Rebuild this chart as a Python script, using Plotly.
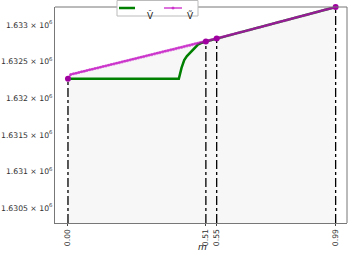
import plotly.graph_objects as go

# ---- data ----
m_grid = [round(i * 0.01, 2) for i in range(100)]
v_tilde = [
    1632266, 1632324, 1632333, 1632342, 1632351, 1632360, 1632369, 1632378, 1632387, 1632396,
    1632405, 1632414, 1632423, 1632432, 1632441, 1632450, 1632459, 1632468, 1632477, 1632486,
    1632495, 1632504, 1632513, 1632522, 1632531, 1632540, 1632550, 1632559, 1632568, 1632577,
    1632586, 1632595, 1632604, 1632613, 1632622, 1632631, 1632640, 1632649, 1632658, 1632667,
    1632676, 1632685, 1632694, 1632703, 1632712, 1632721, 1632730, 1632739, 1632748, 1632757,
    1632766, 1632775, 1632785, 1632795, 1632804, 1632814, 1632824, 1632834, 1632844, 1632854,
    1632863, 1632873, 1632883, 1632893, 1632903, 1632912, 1632922, 1632932, 1632942, 1632952,
    1632961, 1632971, 1632981, 1632991, 1633001, 1633010, 1633020, 1633030, 1633040, 1633050,
    1633059, 1633069, 1633079, 1633089, 1633099, 1633109, 1633118, 1633128, 1633138, 1633148,
    1633158, 1633167, 1633177, 1633187, 1633197, 1633207, 1633216, 1633226, 1633236, 1633246,
]
v_hat_m = [0.00, 0.41, 0.42, 0.43, 0.44, 0.45, 0.46, 0.47, 0.48, 0.49, 0.50, 0.51, 0.55, 0.70, 0.85, 0.99]
v_hat = [1632266, 1632266, 1632413, 1632522, 1632576, 1632617, 1632658, 1632700, 1632730, 1632750,
         1632764, 1632775, 1632814, 1632961, 1633109, 1633246]
mark_m = [0.00, 0.51, 0.55, 0.99]
mark_v = [1632266, 1632775, 1632814, 1633246]
ytick_vals = [1630500, 1631000, 1631500, 1632000, 1632500, 1633000]
ytick_text = ["1.6305 × 10<sup>6</sup>", "1.631 × 10<sup>6</sup>", "1.6315 × 10<sup>6</sup>",
              "1.632 × 10<sup>6</sup>", "1.6325 × 10<sup>6</sup>", "1.633 × 10<sup>6</sup>"]
xtick_text = ["0.00", "0.51", "0.55", "0.99"]
legend_names = ["V̂", "Ṽ"]

Y_MIN, Y_MAX = 1630295, 1633246
GREEN = "#008000"
PINK = "rgba(191,0,191,0.55)"
SPINE = "#777777"

fig = go.Figure()

# gray fill below the curve
fig.add_trace(go.Scatter(x=m_grid, y=[Y_MIN] * len(m_grid), mode="lines",
                         line=dict(width=0), showlegend=False, hoverinfo="skip"))
fig.add_trace(go.Scatter(x=m_grid, y=v_tilde, mode="lines", line=dict(width=0),
                         fill="tonexty", fillcolor="#f7f7f7", showlegend=False, hoverinfo="skip"))

# vertical dash-dot lines
for mm, vv in zip(mark_m, mark_v):
    fig.add_trace(go.Scatter(x=[mm, mm], y=[Y_MIN, vv], mode="lines",
                             line=dict(color="black", width=1.3, dash="dashdot"),
                             showlegend=False, hoverinfo="skip"))

fig.add_trace(go.Scatter(x=v_hat_m, y=v_hat, mode="lines", name=legend_names[0],
                         line=dict(color=GREEN, width=2.5), showlegend=False))
fig.add_trace(go.Scatter(x=m_grid, y=v_tilde, mode="lines+markers", name=legend_names[1],
                         line=dict(color=PINK, width=2),
                         marker=dict(color=PINK, size=3), showlegend=False))
fig.add_trace(go.Scatter(x=mark_m, y=mark_v, mode="markers", showlegend=False,
                         marker=dict(color="#a000a0", size=6), cliponaxis=False))

# compact legend box (paper coordinates)
def px_x(p):
    return (p - 55) / 292.0

def px_y(p):
    return (223 - p) / 216.0

shapes = [
    # top and right frame lines (top is interrupted by the legend box)
    dict(type="line", xref="paper", yref="paper", x0=0, x1=px_x(117), y0=1, y1=1,
         line=dict(color=SPINE, width=1), layer="above"),
    dict(type="line", xref="paper", yref="paper", x0=px_x(198), x1=1, y0=1, y1=1,
         line=dict(color=SPINE, width=1), layer="above"),
    dict(type="line", xref="paper", yref="paper", x0=1, x1=1, y0=0, y1=1,
         line=dict(color=SPINE, width=1), layer="above"),
    # legend frame
    dict(type="rect", xref="paper", yref="paper", x0=px_x(117), x1=px_x(198),
         y0=px_y(16), y1=px_y(0.5), fillcolor="white", line=dict(color="#bbbbbb", width=1),
         layer="above"),
    dict(type="line", xref="paper", yref="paper", x0=px_x(119), x1=px_x(135),
         y0=px_y(8), y1=px_y(8), line=dict(color=GREEN, width=2.5), layer="above"),
    dict(type="line", xref="paper", yref="paper", x0=px_x(164), x1=px_x(182),
         y0=px_y(8), y1=px_y(8), line=dict(color=PINK, width=2), layer="above"),
    dict(type="circle", xref="paper", yref="paper", x0=px_x(171.5), x1=px_x(174.5),
         y0=px_y(9.5), y1=px_y(6.5), fillcolor=PINK, line=dict(width=0), layer="above"),
]
annotations = [
    dict(text=legend_names[0], x=px_x(145), y=px_y(8), xref="paper", yref="paper",
         showarrow=False, font=dict(size=9, color="#222")),
    dict(text=legend_names[1], x=px_x(190), y=px_y(8), xref="paper", yref="paper",
         showarrow=False, font=dict(size=9, color="#222")),
    dict(text="<i>m</i>", x=0.505, y=-0.08, xref="paper", yref="paper",
         yanchor="top", showarrow=False, font=dict(size=9, color="#222")),
]

fig.update_layout(
    width=350, height=255,
    margin=dict(l=55, r=3, t=7, b=32, autoexpand=False),
    paper_bgcolor="white", plot_bgcolor="white",
    font=dict(family="DejaVu Sans", size=7.7, color="#333"),
    showlegend=False,
    shapes=shapes,
    annotations=annotations,
    xaxis=dict(range=[-0.048, 1.032], tickvals=mark_m, ticktext=xtick_text, tickangle=-90,
               showgrid=False, zeroline=False, showline=True, linecolor=SPINE, linewidth=1,
               mirror=False, ticks="outside", ticklen=2, tickcolor="#444", automargin=False),
    yaxis=dict(range=[Y_MIN, Y_MAX], tickvals=ytick_vals, ticktext=ytick_text,
               showgrid=False, zeroline=False, showline=True, linecolor=SPINE, linewidth=1,
               mirror=False, ticks="", automargin=False),
)

fig.write_html("out.html", config={"displayModeBar": False},
               post_script="document.body.style.margin='0';")
